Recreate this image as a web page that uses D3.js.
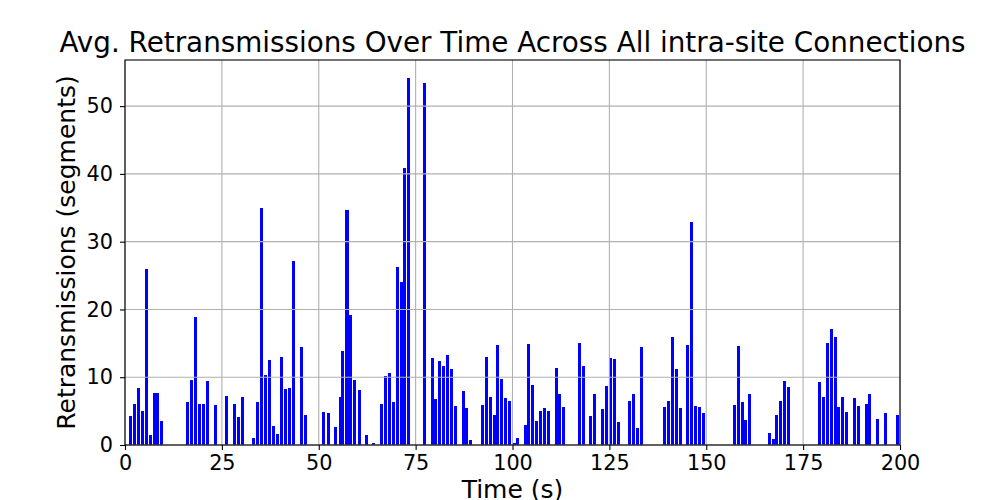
<!DOCTYPE html>
<html>
<head>
<meta charset="utf-8">
<script src="https://cdn.jsdelivr.net/npm/d3@7"></script>
<style>
  html, body { margin: 0; padding: 0; background: #fff; }
  svg { display: block; font-family: "DejaVu Sans", sans-serif; }
</style>
</head>
<body>
<svg id="chart" width="1000" height="500"></svg>
<script>
// time (s) and avg retransmissions in chunks of ~50 s
const timesA = [1.34, 2.37, 3.4, 4.43, 5.46, 6.5, 7.53, 8.3, 9.33,
  16.2, 17.2, 18.25, 19.28, 20.3, 21.3, 23.4, 26.2, 28.3, 29.3, 30.35, 33.2, 34.2,
  35.26, 36.3, 37.3, 38.3, 39.4, 40.4, 41.4, 42.45, 43.5, 45.55, 46.6];
const retransA = [4.3, 6.1, 8.4, 5.0, 25.9, 1.5, 7.7, 7.7, 3.5,
  6.35, 9.6, 18.9, 6.06, 6.06, 9.46, 5.9, 7.24, 6.06, 4.14, 7.1, 1.03, 6.35,
  35.0, 10.3, 12.6, 2.8, 1.6, 13.0, 8.3, 8.4, 27.2, 14.5, 4.4];

const timesB = [51.3, 52.4, 54.4, 55.5, 56.2, 57.3, 58.3, 59.3, 60.4, 62.4, 64.2,
  66.3, 67.3, 68.35, 69.4, 70.4, 71.4, 72.2, 73.25, 77.4, 79.4, 80.2, 81.2, 82.3,
  83.3, 84.3, 85.3, 87.4, 88.2, 89.2, 92.3, 93.35, 94.4, 95.4, 96.2, 97.2, 98.25];
const retransB = [4.9, 4.7, 2.66, 7.1, 13.9, 34.7, 19.2, 9.6, 8.1, 1.48, 0.3,
  6.06, 10.2, 10.6, 6.35, 26.3, 24.1, 40.8, 54.1, 53.35, 12.86, 6.8, 12.4, 11.7,
  13.3, 11.2, 5.76, 8.0, 5.47, 0.74, 5.9, 13.0, 7.1, 4.43, 14.8, 9.75, 6.95];

const timesC = [99.3, 100.4, 101.3, 103.4, 104.2, 105.2, 106.3, 107.3, 108.3, 109.3,
  111.4, 112.2, 113.2, 117.3, 118.35, 120.2, 121.2, 123.25, 124.3, 125.3, 126.3,
  127.4, 130.2, 131.2, 132.3, 133.3, 139.2, 140.3, 141.3, 142.3, 143.4, 145.15,
  146.2, 147.2, 148.3, 149.3];
const retransC = [6.5, 0.3, 1.03, 2.96, 14.9, 8.87, 3.55, 5.0, 5.47, 5.0,
  11.4, 7.54, 5.6, 15.07, 11.67, 4.29, 7.54, 5.3, 8.7, 12.86, 12.7,
  3.4, 6.5, 7.54, 2.5, 14.5, 5.6, 6.5, 15.96, 11.2, 5.47, 14.8,
  32.96, 5.76, 5.6, 4.7];

const timesD = [157.3, 158.3, 159.3, 160.1, 161.1, 166.3, 167.3, 168.1, 169.1, 170.2,
  171.2, 179.2, 180.2, 181.2, 182.3, 183.3, 184.1, 185.1, 186.1, 188.2, 189.2,
  191.3, 192.1, 194.1, 196.2, 199.3];
const retransD = [5.9, 14.6, 6.35, 3.7, 7.54, 1.77, 0.89, 4.43, 6.5, 9.46,
  8.57, 9.3, 7.1, 15.07, 17.1, 15.96, 5.6, 7.1, 4.9, 6.95, 5.76,
  6.06, 7.54, 3.84, 4.7, 4.43];

const xTicks = [0, 25, 50, 75, 100, 125, 150, 175, 200];
const yTicks = [0, 10, 20, 30, 40, 50];

const times = [...timesA, ...timesB, ...timesC, ...timesD];
const retrans = [...retransA, ...retransB, ...retransC, ...retransD];
const data = times.map((t, i) => ({ t, v: retrans[i] }));

const svg = d3.select('#chart');
const margin = { top: 60, right: 100, bottom: 55, left: 125 };
const width = 1000, height = 500;
const barWidth = 0.8;

const x = d3.scaleLinear().domain([0, 200]).range([margin.left, width - margin.right]);
const y = d3.scaleLinear()
  .domain([0, d3.max(retrans) * 1.05])
  .range([height - margin.bottom, margin.top]);

// bars
svg.append('g')
  .attr('fill', '#0000ff')
  .attr('shape-rendering', 'crispEdges')
  .selectAll('rect')
  .data(data)
  .join('rect')
  .attr('x', (d) => x(d.t - barWidth / 2))
  .attr('y', (d) => y(d.v))
  .attr('width', x(barWidth) - x(0))
  .attr('height', (d) => y(0) - y(d.v));

// grid sits above the bars, like matplotlib's default
const grid = svg.append('g').attr('stroke', '#b0b0b0').attr('stroke-width', 1.1);
grid.selectAll('.gx')
  .data(xTicks)
  .join('line')
  .attr('x1', (d) => x(d)).attr('x2', (d) => x(d))
  .attr('y1', y.range()[0]).attr('y2', y.range()[1]);
grid.selectAll('.gy')
  .data(yTicks)
  .join('line')
  .attr('x1', x.range()[0]).attr('x2', x.range()[1])
  .attr('y1', (d) => y(d)).attr('y2', (d) => y(d));

// frame
svg.append('rect')
  .attr('x', x.range()[0])
  .attr('y', y.range()[1])
  .attr('width', x.range()[1] - x.range()[0])
  .attr('height', y.range()[0] - y.range()[1])
  .attr('fill', 'none')
  .attr('stroke', '#000')
  .attr('stroke-width', 1.1);

const xAxis = svg.append('g')
  .attr('transform', `translate(0,${height - margin.bottom})`)
  .call(d3.axisBottom(x).tickValues(xTicks).tickSize(5).tickPadding(5));
const yAxis = svg.append('g')
  .attr('transform', `translate(${margin.left},0)`)
  .call(d3.axisLeft(y).tickValues(yTicks).tickSize(5).tickPadding(7));

[xAxis, yAxis].forEach((g) => {
  g.select('.domain').remove();
  g.selectAll('.tick line').attr('stroke', '#000').attr('stroke-width', 1.1);
  g.selectAll('.tick text')
    .attr('fill', '#000')
    .style('font-family', '"DejaVu Sans", sans-serif')
    .style('font-size', '20.8px');
});

svg.append('text')
  .attr('x', (x.range()[0] + x.range()[1]) / 2)
  .attr('y', 52)
  .attr('text-anchor', 'middle')
  .style('font-size', '27.8px')
  .text('Avg. Retransmissions Over Time Across All intra-site Connections');

// the reference crops this label at the bottom edge too
svg.append('text')
  .attr('x', (x.range()[0] + x.range()[1]) / 2)
  .attr('y', 498)
  .attr('text-anchor', 'middle')
  .style('font-size', '25px')
  .text('Time (s)');

svg.append('text')
  .attr('transform', `translate(75,${(y.range()[0] + y.range()[1]) / 2}) rotate(-90)`)
  .attr('text-anchor', 'middle')
  .style('font-size', '25px')
  .text('Retransmissions (segments)');
</script>
</body>
</html>
